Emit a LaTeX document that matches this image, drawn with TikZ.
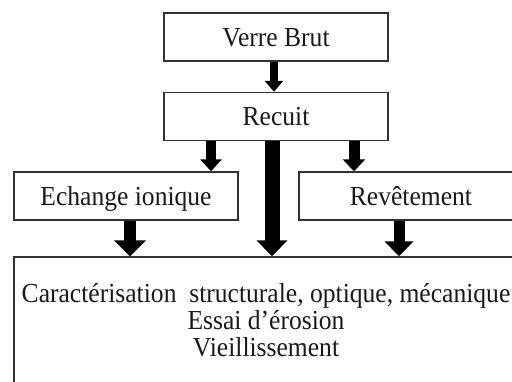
\documentclass[tikz,border=0pt]{standalone}
\usepackage{fontspec}
\setmainfont{Liberation Serif}[FakeStretch=0.93]
\usetikzlibrary{arrows.meta}

\tikzset{
  boite/.style={draw=black!80, line width=1.4pt, inner sep=0pt, text=black!90},
  petite/.style={boite, minimum width=224pt, minimum height=48pt, text height=18pt, text depth=0pt},
  fleche/.style args={#1/#2/#3}{line width=#1, -{Triangle[width=#2,length=#3]}}
}

\begin{document}
\begin{tikzpicture}[x=1pt, y=-1pt, font=\fontsize{27.5}{27}\selectfont]

    % Frame of the picture
    \useasboundingbox (0,0) rectangle (512,381);
    \clip (0,0) rectangle (512,381);

    % Boxes
    \node[petite] (verre) at (276,37) {Verre Brut};
    \node[petite] (recuit) at (276,116.5) {Recuit};
    \node[petite] (echange) at (126,196) {Echange ionique};
    \node[petite] (revet) at (411,196) {Revêtement};
    \node[boite, minimum width=504pt, minimum height=126pt, align=center] (carac) at (266,320)
        {Caractérisation \ structurale, optique, mécanique\\Essai d’érosion\\Vieillissement};

    % Arrows from the top box
    \coordinate (v1) at ([xshift=-2pt]verre.south);
    \draw[fleche=8pt/18pt/11pt] (v1) -- (v1 |- recuit.north);

    % Arrows from Recuit
    \coordinate (r1) at ([xshift=-65pt]recuit.south);
    \draw[fleche=10pt/21pt/12pt] (r1) -- (r1 |- echange.north);
    \coordinate (r2) at ([xshift=78pt]recuit.south);
    \draw[fleche=11pt/22pt/12pt] (r2) -- (r2 |- revet.north);
    \coordinate (r3) at ([xshift=-4pt]recuit.south);
    \draw[fleche=15pt/30pt/16pt] (r3) -- (r3 |- carac.north);

    % Arrows into the bottom box
    \coordinate (e1) at ([xshift=4pt]echange.south);
    \draw[fleche=12pt/31pt/16pt] (e1) -- (e1 |- carac.north);
    \coordinate (t1) at ([xshift=-12pt]revet.south);
    \draw[fleche=11pt/28pt/15pt] (t1) -- (t1 |- carac.north);

\end{tikzpicture}
\end{document}
